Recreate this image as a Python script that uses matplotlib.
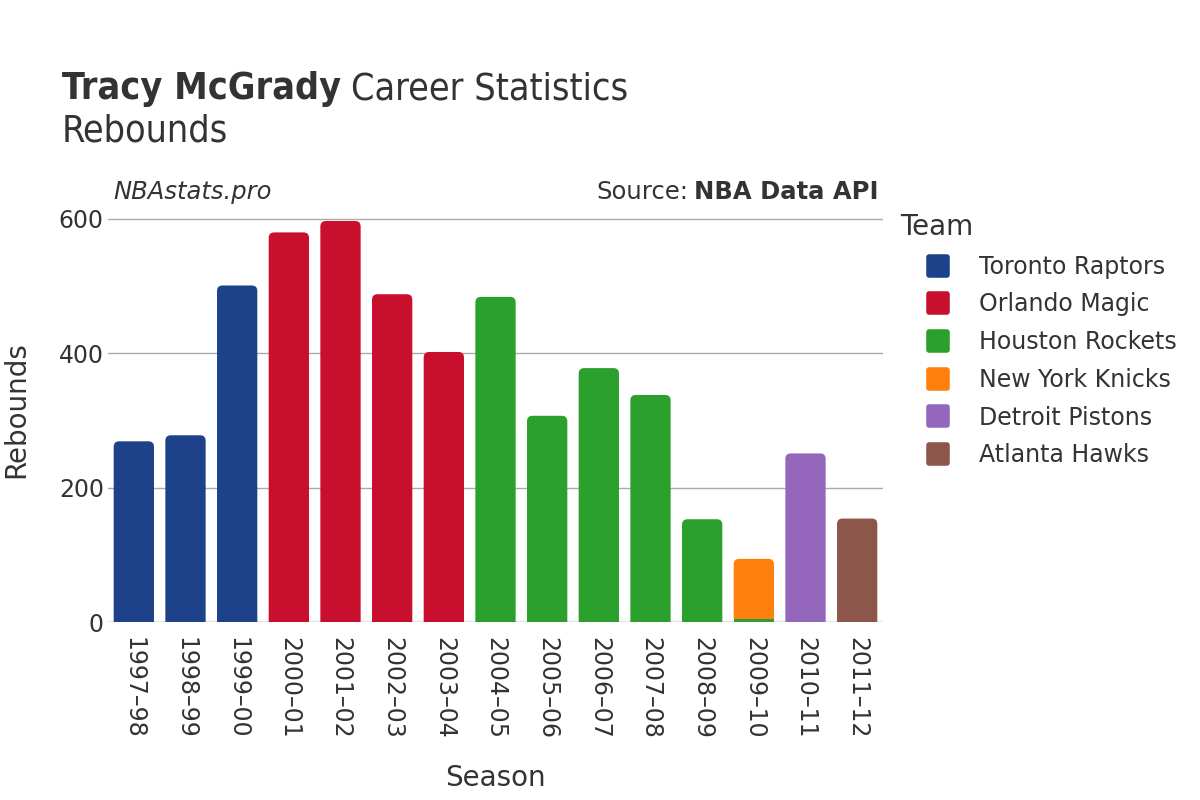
import matplotlib
matplotlib.use("Agg")
import matplotlib.pyplot as plt
from matplotlib.patches import FancyBboxPatch
from matplotlib.lines import Line2D
from matplotlib.markers import MarkerStyle
from matplotlib.transforms import Bbox, TransformedBbox
import numpy as np

seasons = ["1997–98", "1998–99", "1999–00", "2000–01", "2001–02", "2002–03", "2003–04",
           "2004–05", "2005–06", "2006–07", "2007–08", "2008–09", "2009–10", "2010–11", "2011–12"]
teams = ["Toronto Raptors", "Orlando Magic", "Houston Rockets", "New York Knicks",
         "Detroit Pistons", "Atlanta Hawks"]
team_colors = ["#1d428a", "#c8102e", "#2ca02c", "#ff7f0e", "#9467bd", "#8c564b"]
# (season index, team index, rebounds) in stacking order
bar_season = [0, 1, 2, 3, 4, 5, 6, 7, 8, 9, 10, 11, 12, 12, 13, 14]
bar_team   = [0, 0, 0, 1, 1, 1, 1, 2, 2, 2, 2, 2, 2, 3, 4, 5]
bar_value  = [269, 278, 501, 580, 597, 488, 402, 484, 307, 378, 338, 153, 5, 89, 251, 154]

plt.rcParams['font.family'] = ['DejaVu Sans']
fig = plt.figure(figsize=(12, 8), dpi=100)
W, H = 1200, 800
ax_left, ax_right, ax_top, ax_bottom = 108, 883, 208, 622
ax = fig.add_axes([ax_left / W, 1 - ax_bottom / H, (ax_right - ax_left) / W, (ax_bottom - ax_top) / H])

ymax = (ax_bottom - ax_top) / 0.6717
ax.set_xlim(-0.5, len(seasons) - 0.5)
ax.set_ylim(0, ymax)

px_x = (ax_right - ax_left) / len(seasons)
px_y = (ax_bottom - ax_top) / ymax
width = 0.78
r_px = 5.5
rx = r_px / px_x
aspect = (r_px / px_y) / rx

bottoms = {}
n = len(bar_value)
for i in range(n):
    s, t, v = bar_season[i], bar_team[i], bar_value[i]
    b = bottoms.get(s, 0)
    is_top = all(bar_season[j] != s for j in range(i + 1, n))
    if is_top and v > 2 * r_px / px_y:
        ext = r_px / px_y * 1.5
        p = FancyBboxPatch((s - width / 2, b - ext), width, v + ext,
                           boxstyle=f"round,pad=0,rounding_size={rx}",
                           mutation_aspect=aspect, facecolor=team_colors[t],
                           edgecolor='none', zorder=3)
        ax.add_patch(p)
        clip = TransformedBbox(Bbox([[s - width / 2 - 0.1, b], [s + width / 2 + 0.1, ymax]]), ax.transData)
        p.set_clip_box(clip)
    else:
        ax.bar(s, v, width=width, bottom=b, color=team_colors[t], zorder=3, linewidth=0)
    bottoms[s] = b + v

for yv in [200, 400, 600]:
    ax.axhline(yv, color='#aaaaaa', lw=1.0, zorder=1)
ax.axhline(0, color='#e6e6e6', lw=2.5, zorder=2)

for sp in ax.spines.values():
    sp.set_visible(False)
ax.set_yticks([0, 200, 400, 600])
ax.set_yticklabels(["0", "200", "400", "600"])
ax.set_xticks(range(len(seasons)))
ax.set_xticklabels(seasons, rotation=-90)
ax.tick_params(axis='both', length=0, labelsize=17, labelcolor='#333333')
ax.tick_params(axis='x', pad=11)
ax.tick_params(axis='y', pad=3)

fig.text(495 / W, 1 - 778 / H, "Season", ha='center', va='center', fontsize=20, color='#333333')
fig.text(16 / W, 1 - 410 / H, "Rebounds", ha='center', va='center', fontsize=20, color='#333333', rotation=90)

t1 = fig.text(62 / W, 1 - 89 / H, "Tracy McGrady", ha='left', va='center', fontsize=27,
              fontweight='bold', color='#333333', fontstretch='condensed')
fig.canvas.draw()
bb = t1.get_window_extent()
fig.text((bb.x1 + 10) / W, 1 - 89 / H, "Career Statistics", ha='left', va='center', fontsize=27,
         color='#333333', fontstretch='condensed')
fig.text(62 / W, 1 - 132 / H, "Rebounds", ha='left', va='center', fontsize=27, color='#333333',
         fontstretch='condensed')

fig.text(113 / W, 1 - 192 / H, "NBAstats.pro", ha='left', va='center', fontsize=17.5,
         style='italic', color='#333333')
s2 = fig.text(878 / W, 1 - 192 / H, "NBA Data API", ha='right', va='center', fontsize=17.5,
              fontweight='bold', color='#333333')
fig.canvas.draw()
bb2 = s2.get_window_extent()
fig.text((bb2.x0 - 5) / W, 1 - 192 / H, "Source:", ha='right', va='center', fontsize=17.5,
         color='#333333')

mk = MarkerStyle('s', joinstyle='round')
handles = [Line2D([0], [0], marker=mk, linestyle='none', markersize=13, markeredgewidth=4,
                  markerfacecolor=c, markeredgecolor=c) for c in team_colors]
leg = fig.legend(handles, teams, loc='upper left', bbox_to_anchor=(893 / W, 1 - 206 / H),
                 frameon=False, fontsize=17, title="Team", title_fontsize=20,
                 handlelength=3.2, handletextpad=0.15, labelspacing=0.58,
                 borderaxespad=0, borderpad=0.3)
leg._legend_box.align = "left"
for txt in leg.get_texts():
    txt.set_color('#333333')
leg.get_title().set_color('#333333')

fig.savefig("out.png", dpi=100, facecolor='white')
